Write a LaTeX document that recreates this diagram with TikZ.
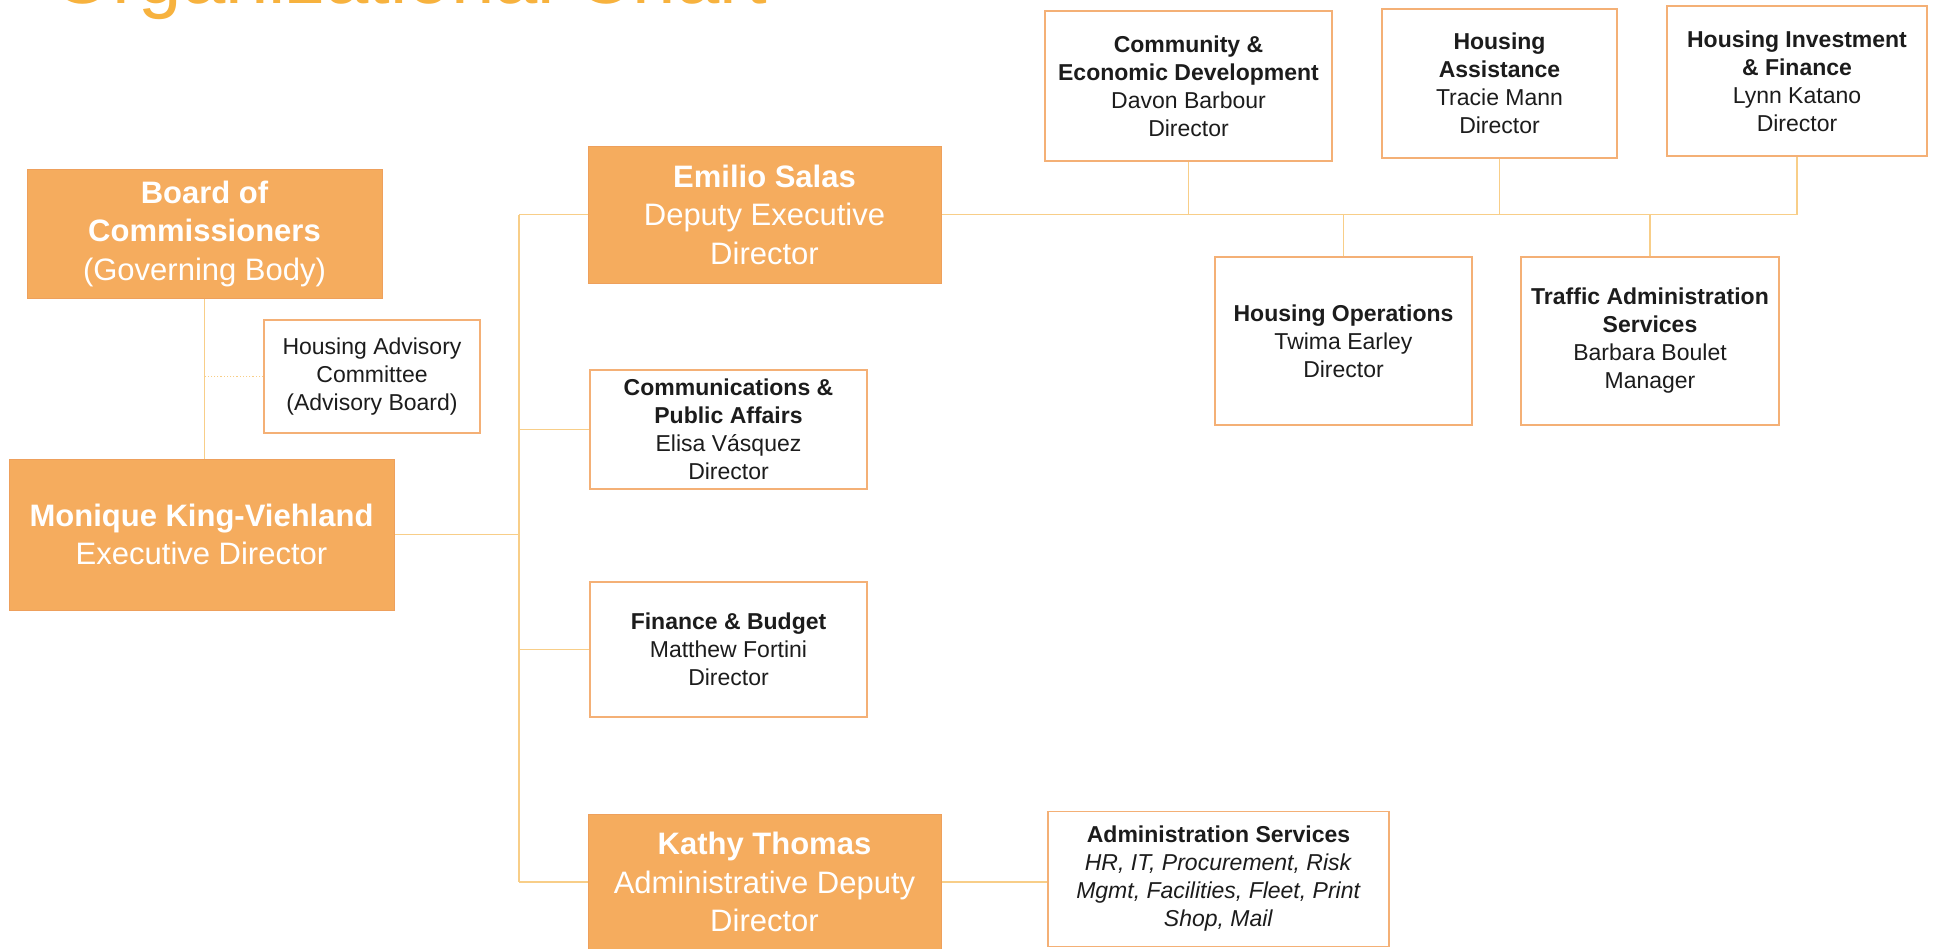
\documentclass[tikz,border=0pt]{standalone}
\usepackage{fontspec}
\setmainfont{Liberation Sans}
\definecolor{orgfill}{RGB}{245,172,94}
\definecolor{orgedge}{RGB}{238,160,92}
\definecolor{boxedge}{RGB}{244,176,118}
\definecolor{linkcol}{RGB}{248,206,136}
\definecolor{titlecol}{RGB}{247,178,62}
\definecolor{inkcol}{RGB}{28,28,28}
\tikzset{
  orgbox/.style={draw=orgedge, line width=1pt, fill=orgfill, text=white, align=center, inner sep=0pt,
    font=\fontsize{31}{38.5}\selectfont},
  unitbox/.style={draw=boxedge, line width=1.5pt, fill=white, text=inkcol, align=center, inner sep=0pt,
    font=\fontsize{23}{28}\selectfont},
  link/.style={draw=linkcol, line width=1.6pt},
  advlink/.style={draw=linkcol, line width=1.2pt, dotted}
}
\begin{document}
\begin{tikzpicture}[x=1pt,y=-1pt]
\useasboundingbox (0,0) rectangle (1936,948);
\fill[white] (0,0) rectangle (1936,948);

% title, cut off by the top edge
\node[anchor=base west, inner sep=0pt, text=titlecol, font=\fontsize{78}{90}\selectfont] (title) at (52,3) {Organizational Chart};

% left column
\node[orgbox, minimum width=355pt, minimum height=129pt] (board) at (204.5,233.5)
  {\textbf{Board of}\\\textbf{Commissioners}\\(Governing Body)};
\node[unitbox, minimum width=216pt, minimum height=113pt] (hac) at (372,376.5)
  {Housing Advisory\\Committee\\(Advisory Board)};
\node[orgbox, minimum width=385pt, minimum height=151pt] (ed) at (201.5,534.5)
  {\textbf{Monique King-Viehland}\\Executive Director};

% middle column
\node[orgbox, minimum width=353pt, minimum height=137pt] (ded) at (764.5,214.5)
  {\textbf{Emilio Salas}\\Deputy Executive\\Director};
\node[unitbox, minimum width=277pt, minimum height=119pt] (comms) at (728.5,429.5)
  {\textbf{Communications \&}\\\textbf{Public Affairs}\\Elisa Vásquez\\Director};
\node[unitbox, minimum width=277pt, minimum height=135pt] (fin) at (728.5,649.5)
  {\textbf{Finance \& Budget}\\Matthew Fortini\\Director};
\node[orgbox, minimum width=353pt, minimum height=136pt] (aded) at (764.5,882)
  {\textbf{Kathy Thomas}\\Administrative Deputy\\Director};
\node[unitbox, minimum width=341pt, minimum height=135pt] (adm) at (1218.5,879)
  {\textbf{Administration Services}\\\textit{HR, IT, Procurement, Risk}\\\textit{Mgmt, Facilities, Fleet, Print}\\\textit{Shop, Mail}};

% right group
\node[unitbox, minimum width=287pt, minimum height=150pt] (ced) at (1188.5,86)
  {\textbf{Community \&}\\\textbf{Economic Development}\\Davon Barbour\\Director};
\node[unitbox, minimum width=235pt, minimum height=149pt] (ha) at (1499.5,83.5)
  {\textbf{Housing}\\\textbf{Assistance}\\Tracie Mann\\Director};
\node[unitbox, minimum width=260pt, minimum height=150pt] (hif) at (1797,81)
  {\textbf{Housing Investment}\\\textbf{\& Finance}\\Lynn Katano\\Director};
\node[unitbox, minimum width=257pt, minimum height=168pt] (ho) at (1343.5,341)
  {\textbf{Housing Operations}\\Twima Earley\\Director};
\node[unitbox, minimum width=258pt, minimum height=168pt] (tas) at (1650,341)
  {\textbf{Traffic Administration}\\\textbf{Services}\\Barbara Boulet\\Manager};

% connectors
\coordinate (trunk) at (519,0);
\draw[link] (board.south) -- (board.south |- ed.north);
\draw[advlink] (hac.west) -- (hac.west -| board.south);
\draw[link] (ed.east) -- (ed.east -| trunk);
\draw[link] (ded.west -| trunk) -- (aded.west -| trunk);
\draw[link] (ded.west -| trunk) -- (ded.west);
\draw[link] (comms.west -| trunk) -- (comms.west);
\draw[link] (fin.west -| trunk) -- (fin.west);
\draw[link] (aded.west -| trunk) -- (aded.west);
\draw[link] (aded.east) -- (adm.west |- aded.east);
\draw[link] (ded.east) -- (hif.south |- ded.east);
\draw[link] (ced.south) -- (ced.south |- ded.east);
\draw[link] (ha.south) -- (ha.south |- ded.east);
\draw[link] (hif.south) -- (hif.south |- ded.east);
\draw[link] (ho.north) -- (ho.north |- ded.east);
\draw[link] (tas.north) -- (tas.north |- ded.east);
\end{tikzpicture}
\end{document}
